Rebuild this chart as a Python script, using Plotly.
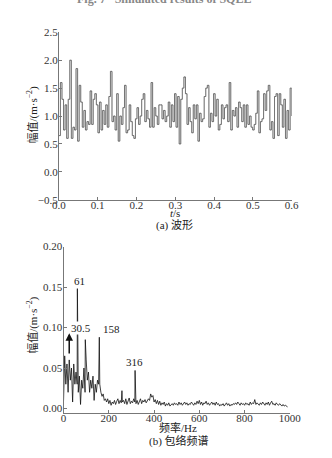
import numpy as np
import plotly.graph_objects as go

W, H = 332, 458

# ---- (a) waveform data (m/s^2), uniformly sampled over 0..0.6 s
wave_t_end = 0.6
wave_vals = [0.65, 1.6, 1.3, 0.75, 1.2, 0.6, 1.3, 2.0, 0.6, 0.8, 0.75, 1.85, 0.55, 1.55, 1.25, 0.8,
             1.1, 0.75, 0.9, 0.85, 1.45, 0.85, 1.3, 1.4, 1.2, 0.7, 1.25, 0.75, 1.1, 0.85, 1.2, 0.8,
             1.35, 1.8, 0.9, 1.0, 0.75, 1.4, 0.55, 1.0, 0.85, 1.15, 1.55, 0.7, 0.75, 1.2, 0.9, 0.65,
             0.6, 0.95, 1.15, 0.85, 1.0, 1.3, 1.4, 0.9, 1.1, 0.95, 0.8, 1.6, 0.8, 1.15, 1.0, 0.85,
             1.2, 1.2, 0.95, 1.1, 0.9, 1.0, 1.25, 0.8, 1.2, 0.9, 1.4, 0.8, 1.35, 0.5, 1.3, 1.5,
             1.7, 1.4, 0.85, 1.15, 0.9, 0.7, 1.2, 0.95, 1.2, 0.55, 1.05, 0.9, 0.95, 1.35, 1.5, 1.55,
             0.8, 1.05, 0.9, 1.4, 1.0, 1.3, 0.75, 0.85, 1.2, 0.95, 1.15, 1.2, 0.9, 1.6, 0.75, 1.1,
             1.0, 1.15, 0.8, 1.25, 1.15, 0.9, 1.2, 0.8, 1.2, 0.85, 1.0, 0.8, 0.75, 0.85, 1.05, 1.45,
             0.7, 0.9, 0.95, 1.4, 1.1, 1.45, 1.55, 0.75, 0.9, 0.6, 1.35, 1.4, 0.65, 1.4, 1.2, 0.8,
             1.3, 0.6, 1.1, 0.75, 1.5, 1.0]
wave_t = np.linspace(0, wave_t_end, len(wave_vals))

# ---- (b) envelope spectrum: background on a 5 Hz grid + discrete peaks
spec_step = 5
spec_vals = [0.01, 0.065, 0.03, 0.055, 0.02, 0.06, 0.035, 0.05, 0.008, 0.055, 0.03, 0.045,
             0.03, 0.02, 0.04, 0.005, 0.035, 0.025, 0.05, 0.02,
             0.06, 0.035, 0.045, 0.02, 0.035, 0.025, 0.04, 0.01, 0.03, 0.02, 0.035, 0.03,
             0.03, 0.02, 0.015, 0.018, 0.01, 0.012, 0.008, 0.012,
             0.006, 0.01, 0.004, 0.008, 0.006, 0.01, 0.005, 0.009, 0.012, 0.006, 0.01, 0.007,
             0.008, 0.01, 0.006, 0.012, 0.005, 0.01, 0.013, 0.006,
             0.009, 0.007, 0.012, 0.008, 0.006, 0.01, 0.005, 0.009, 0.012, 0.006, 0.01, 0.008,
             0.011, 0.007, 0.01, 0.012, 0.01, 0.018, 0.014, 0.016,
             0.008, 0.011, 0.006, 0.01, 0.005, 0.009, 0.004, 0.007, 0.005, 0.008, 0.003, 0.006,
             0.004, 0.007, 0.003, 0.005, 0.006, 0.004, 0.007, 0.005,
             0.006, 0.004, 0.008, 0.005, 0.007, 0.004, 0.006, 0.008, 0.005, 0.007, 0.004, 0.006,
             0.005, 0.008, 0.006, 0.004, 0.007, 0.005, 0.009, 0.006,
             0.01, 0.005, 0.008, 0.004, 0.007, 0.006, 0.009, 0.005, 0.007, 0.004, 0.006, 0.008,
             0.005, 0.007, 0.004, 0.008, 0.005, 0.006, 0.003, 0.005,
             0.004, 0.006, 0.003, 0.005, 0.007, 0.004, 0.006, 0.003, 0.005, 0.004, 0.006, 0.005,
             0.007, 0.005, 0.008, 0.006, 0.004, 0.007, 0.005, 0.006,
             0.004, 0.007, 0.005, 0.006, 0.004, 0.008, 0.005, 0.007, 0.006, 0.011, 0.005, 0.007,
             0.006, 0.004, 0.007, 0.005, 0.008, 0.006, 0.004, 0.007,
             0.005, 0.008, 0.004, 0.007, 0.009, 0.005, 0.006, 0.004, 0.007, 0.005, 0.004, 0.006,
             0.004, 0.003, 0.005, 0.003, 0.004, 0.003, 0.002]
peak_freqs = [61, 63, 96, 158, 258, 316]
peak_amps = [0.148, 0.09, 0.085, 0.088, 0.022, 0.047]
peak_labels = ["61", "30.5", "158", "316"]
peak_label_x = [71, 75, 212, 314]
peak_label_y = [0.157, 0.099, 0.0985, 0.057]

grid_f = np.arange(len(spec_vals)) * spec_step
pairs = sorted(list(zip(grid_f.tolist(), spec_vals)) + list(zip(peak_freqs, peak_amps)))
spec_f = [p[0] for p in pairs]
spec_a = [p[1] for p in pairs]

SERIF = "Liberation Serif, Times New Roman, serif"
CJK = "Liberation Serif, Noto Sans CJK SC, serif"

fig = go.Figure()
fig.add_trace(go.Scatter(x=wave_t, y=wave_vals, mode="lines", line=dict(color="#b0b0b0", width=1.0, shape="hv"),
                         xaxis="x", yaxis="y", showlegend=False))
fig.add_trace(go.Scatter(x=wave_t, y=wave_vals, mode="lines", line=dict(color="#3a3a3a", width=0.5, shape="hv"),
                         xaxis="x", yaxis="y", showlegend=False))
fig.add_trace(go.Scatter(x=spec_f, y=spec_a, mode="lines", line=dict(color="#111111", width=0.8),
                         xaxis="x2", yaxis="y2", showlegend=False))

def px_x(p):
    return p / W

def px_y(p):
    return 1 - p / H

axis_common = dict(showgrid=False, zeroline=False, showline=True, linecolor="#777777", linewidth=1,
                   ticks="inside", ticklen=3, tickcolor="#777777",
                   tickfont=dict(family=SERIF, size=11, color="#333333"))

fig.update_layout(
    width=W, height=H, margin=dict(l=0, r=0, t=0, b=0),
    paper_bgcolor="white", plot_bgcolor="white",
    xaxis=dict(domain=[px_x(55), px_x(302)], range=[0, 0.6], tickvals=[0, 0.1, 0.2, 0.3, 0.4, 0.5, 0.6],
               tickformat=".1f", anchor="y", ticklabelstandoff=-5, **axis_common),
    yaxis=dict(domain=[px_y(199), px_y(27)], range=[-0.5, 2.5], tickvals=[-0.5, 0, 0.5, 1.0, 1.5, 2.0, 2.5],
               tickformat=".1f", anchor="x", ticklabelstandoff=-2, **axis_common),
    xaxis2=dict(domain=[px_x(60), px_x(300)], range=[0, 1000], tickvals=[0, 200, 400, 600, 800, 1000],
                anchor="y2", ticklabelstandoff=-5, **axis_common),
    yaxis2=dict(domain=[px_y(417.5), px_y(247)], range=[-0.005, 0.2], tickvals=[0, 0.05, 0.1, 0.15, 0.2],
                tickformat=".2f", anchor="x2", ticklabelstandoff=-2, **axis_common),
)

ann = []
def txt(x, y, s, size=11, angle=0, font=SERIF, color="#222222"):
    ann.append(dict(x=px_x(x), y=px_y(y), xref="paper", yref="paper", text=s, showarrow=False,
                    textangle=angle, font=dict(family=font, size=size, color=color),
                    xanchor="center", yanchor="middle"))

txt(166, -7, "<b>Fig. 7   Simulated results of SQLE</b>", size=12, color="#888888")
txt(27, 112, "幅值/(m·s<sup>−2</sup>)", size=11, angle=-90, font=CJK)
txt(27, 328, "幅值/(m·s<sup>−2</sup>)", size=11, angle=-90, font=CJK)
txt(178, 213, "<i>t</i>/s", size=11)
txt(178, 225, "(a) 波形", size=11, font=CJK)
txt(181, 433, "频率/Hz", size=11, font=CJK)
txt(182, 447, "(b) 包络频谱", size=11, font=CJK)

for s, fx, fy in zip(peak_labels, peak_label_x, peak_label_y):
    ann.append(dict(x=fx, y=fy, xref="x2", yref="y2", text=s, showarrow=False, bgcolor="white", borderpad=0,
                    font=dict(family=SERIF, size=11, color="#222222"), xanchor="center", yanchor="middle"))

# arrow pointing at the 30.5 Hz component
ann.append(dict(x=25, y=0.093, xref="x2", yref="y2", ax=25, ay=0.066, axref="x2", ayref="y2",
                text="", showarrow=True, arrowhead=2, arrowsize=1, arrowwidth=1.5, arrowcolor="#111111"))

fig.update_layout(annotations=ann)
fig.write_html("out.html")
